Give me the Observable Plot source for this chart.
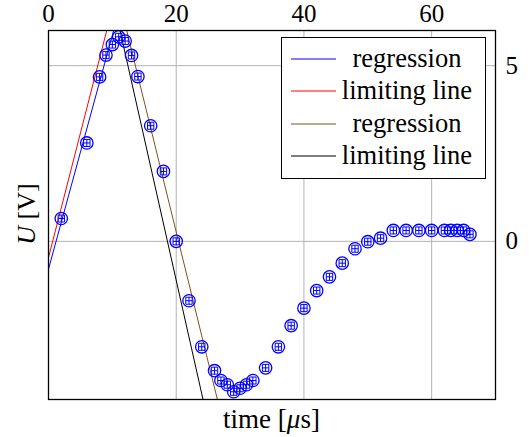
<!DOCTYPE html>
<html><head><meta charset="utf-8">
<script src="https://cdn.jsdelivr.net/npm/d3@7"></script>
<script src="https://cdn.jsdelivr.net/npm/@observablehq/plot@0.6"></script>
<style>body{margin:0;background:#fff} svg text{font-family:"Liberation Serif","Times New Roman",serif !important;}</style>
</head><body><div id="chart"></div>
<script>
// measured points: time [µs] and voltage U [V]
const timeUs  = [2, 6, 8, 9, 10, 11, 12, 13, 14, 16, 18, 20, 22, 24, 26, 27, 28, 29, 30, 31, 32, 34, 36, 38, 40, 42, 44, 46, 48, 50, 52, 54, 56, 58, 60, 62, 63, 64, 65, 66];
const voltage = [0.65, 2.80, 4.68, 5.30, 5.60, 5.82, 5.70, 5.29, 4.69, 3.29, 1.99, 0.0, -1.69, -3.0, -3.68, -3.96, -4.08, -4.28, -4.18, -4.08, -3.96, -3.60, -3.0, -2.40, -1.90, -1.40, -1.01, -0.62, -0.21, -0.01, 0.09, 0.31, 0.31, 0.31, 0.31, 0.31, 0.31, 0.31, 0.31, 0.20];
const timeErr = 0.5;   // µs
const voltErr = 0.1;   // V

// fitted / limiting lines (end points where they meet the frame)
const lineNames = ["regression", "limiting line", "regression", "limiting line"];
const lineX1 = [0, 0, 12.25, 11.2];
const lineY1 = [-0.79, -0.46, 6, 6];
const lineX2 = [10.2, 9.12, 26.45, 24.2];
const lineY2 = [6, 6, -4.5, -4.5];

const xTicks = [0, 20, 40, 60];
const yTicks = [0, 5];

// ---- rendering ----
const lineColors = ["#0000ff", "#ff0000", "#80501f", "#000000"];
const pts = timeUs.map((t, i) => ({t, u: voltage[i]}));
const lines = lineNames.map((name, i) => ({name, x1: lineX1[i], y1: lineY1[i], x2: lineX2[i], y2: lineY2[i], color: lineColors[i]}));
const bar = {draw(ctx, l) { ctx.moveTo(0, 0); ctx.lineTo(0, -l); }};
const font = "Liberation Serif, Times New Roman, serif";
const blue = "#0000ff";

const chart = Plot.plot({
  width: 530, height: 437,
  marginLeft: 48, marginRight: 35, marginTop: 30, marginBottom: 38,
  style: {fontFamily: font, fontSize: "25px", background: "#fff", color: "#000"},
  x: {domain: [0, 70]},
  y: {domain: [-4.5, 6]},
  marks: [
    Plot.gridX(xTicks, {stroke: "#b3b3b3", strokeOpacity: 1, strokeWidth: 1}),
    Plot.gridY(yTicks, {stroke: "#b3b3b3", strokeOpacity: 1, strokeWidth: 1}),
    Plot.axisX(xTicks, {anchor: "top", tickSize: 0, tickPadding: 9, label: null, fontSize: 25, fontFamily: font, fontVariant: "normal"}),
    Plot.axisY(yTicks, {anchor: "right", tickSize: 0, tickPadding: 10, label: null, fontSize: 25, fontFamily: font, fontVariant: "normal"}),
    Plot.link(lines, {x1: "x1", y1: "y1", x2: "x2", y2: "y2", stroke: "color", strokeWidth: 1}),
    // error bars
    Plot.link(pts, {x1: d => d.t - timeErr, x2: d => d.t + timeErr, y1: "u", y2: "u", stroke: blue, strokeWidth: 1}),
    Plot.link(pts, {x1: "t", x2: "t", y1: d => d.u - voltErr, y2: d => d.u + voltErr, stroke: blue, strokeWidth: 1}),
    Plot.vector(pts, {x: d => d.t - timeErr, y: "u", length: 6, rotate: 0, anchor: "middle", shape: bar, stroke: blue, strokeWidth: 1}),
    Plot.vector(pts, {x: d => d.t + timeErr, y: "u", length: 6, rotate: 0, anchor: "middle", shape: bar, stroke: blue, strokeWidth: 1}),
    Plot.vector(pts, {x: "t", y: d => d.u - voltErr, length: 6, rotate: 90, anchor: "middle", shape: bar, stroke: blue, strokeWidth: 1}),
    Plot.vector(pts, {x: "t", y: d => d.u + voltErr, length: 6, rotate: 90, anchor: "middle", shape: bar, stroke: blue, strokeWidth: 1}),
    Plot.dot(pts, {x: "t", y: "u", r: 6.2, stroke: blue, strokeWidth: 1.3, fill: "none"}),
    Plot.frame({stroke: "#000", strokeWidth: 1.3})
  ]
});

const svg = d3.select(chart);
const xs = chart.scale("x");
const cx = (xs.range[0] + xs.range[1]) / 2;

// x label
const xl = svg.append("text").attr("x", cx).attr("y", 428).attr("text-anchor", "middle")
  .attr("font-size", 27).attr("fill", "#000");
xl.append("tspan").text("time [");
xl.append("tspan").attr("font-style", "italic").text("μ");
xl.append("tspan").text("s]");

// y label
const yl = svg.append("text").attr("transform", "translate(35,214) rotate(-90)").attr("text-anchor", "middle")
  .attr("font-size", 26).attr("fill", "#000");
yl.append("tspan").attr("font-style", "italic").text("U");
yl.append("tspan").text(" [V]");

// legend
const lg = svg.append("g");
lg.append("rect").attr("x", 281.5).attr("y", 37.5).attr("width", 204).attr("height", 141)
  .attr("fill", "#fff").attr("stroke", "#000").attr("stroke-width", 1);
const rowY = [59, 91, 124, 156];
lines.forEach((d, i) => {
  lg.append("line").attr("x1", 291).attr("x2", 336).attr("y1", rowY[i]).attr("y2", rowY[i])
    .attr("stroke", d.color).attr("stroke-width", 1);
  lg.append("text").attr("x", 407).attr("y", rowY[i]).attr("dy", "0.32em").attr("text-anchor", "middle")
    .attr("font-size", 26.5).attr("fill", "#000").text(d.name);
});

document.getElementById("chart").appendChild(chart);
</script>
</body></html>
